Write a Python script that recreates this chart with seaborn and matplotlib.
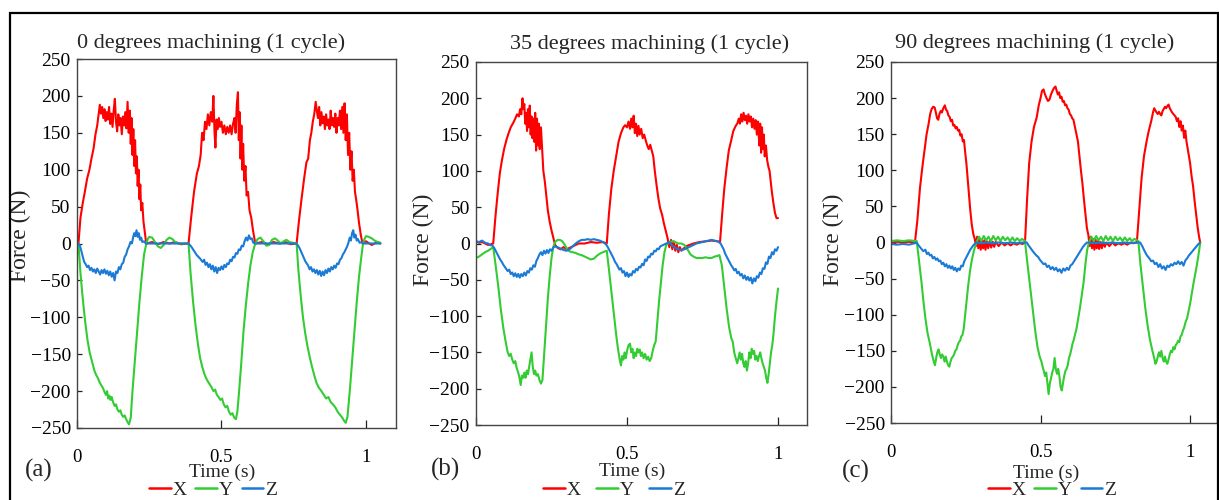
import matplotlib
matplotlib.use("Agg")
import matplotlib.pyplot as plt
from matplotlib.lines import Line2D
from matplotlib.patches import Rectangle
import pandas as pd
import seaborn as sns

# ---------------- data (time s, force N) ----------------
TITLES = ["0 degrees machining (1 cycle)", "35 degrees machining (1 cycle)", "90 degrees machining (1 cycle)"]
PANEL_TAGS = ["(a)", "(b)", "(c)"]
COMPONENTS = ["X", "Y", "Z"]
Y_TICKS = [-250, -200, -150, -100, -50, 0, 50, 100, 150, 200, 250]
X_TICKS = [0, 0.5, 1]
X_TICK_LABELS = ["0", "0.5", "1"]

A_X = [(0.005,0),(0.012,35),(0.020,55),(0.028,72),(0.035,88),(0.043,100),(0.050,115),(0.057,128),(0.064,148),(0.070,160),
       (0.075,175),(0.079,188),(0.083,176),(0.087,185),(0.091,170),(0.095,182),(0.099,166),(0.103,178),(0.107,168),(0.111,185),
       (0.115,162),(0.119,176),(0.123,158),(0.127,180),(0.131,196),(0.135,165),(0.139,152),(0.143,175),(0.147,160),(0.151,170),
       (0.155,148),(0.159,172),(0.163,160),(0.167,178),(0.171,156),(0.175,192),(0.179,150),(0.183,180),(0.186,135),(0.189,170),
       (0.192,120),(0.195,155),(0.198,105),(0.201,140),(0.204,95),(0.207,118),(0.210,78),(0.213,100),(0.216,60),(0.219,80),
       (0.222,45),(0.226,55),(0.230,30),(0.234,18),(0.238,5),(0.242,0),
       (0.26,2),(0.28,-1),(0.30,2),(0.32,0),(0.34,2),(0.36,-1),(0.386,0),
       (0.395,35),(0.405,70),(0.415,95),(0.422,105),(0.428,120),(0.433,150),(0.438,140),(0.443,165),(0.448,155),(0.453,175),
       (0.458,160),(0.463,178),(0.468,165),(0.472,200),(0.476,150),(0.479,130),(0.483,168),(0.487,155),(0.491,170),(0.495,158),
       (0.500,165),(0.505,150),(0.510,160),(0.515,148),(0.520,158),(0.525,150),(0.530,160),(0.535,148),(0.540,162),(0.545,170),
       (0.549,150),(0.553,188),(0.557,205),(0.560,140),(0.563,178),(0.566,115),(0.569,160),(0.572,100),(0.575,135),(0.579,85),
       (0.583,105),(0.587,65),(0.592,70),(0.597,45),(0.603,35),(0.609,18),(0.617,0),
       (0.64,2),(0.66,-1),(0.68,2),(0.70,0),(0.72,2),(0.74,-1),(0.76,0),
       (0.768,30),(0.777,60),(0.786,88),(0.794,110),(0.800,115),(0.806,140),(0.811,150),(0.816,165),(0.821,175),(0.826,192),
       (0.830,180),(0.834,170),(0.838,185),(0.842,160),(0.846,178),(0.850,163),(0.854,172),(0.858,155),(0.862,175),(0.866,160),
       (0.870,168),(0.874,155),(0.878,180),(0.882,160),(0.886,170),(0.890,158),(0.894,176),(0.898,150),(0.902,170),(0.906,160),
       (0.910,180),(0.914,155),(0.918,185),(0.922,150),(0.926,190),(0.930,140),(0.934,175),(0.938,120),(0.942,150),(0.946,100),
       (0.950,125),(0.954,85),(0.958,100),(0.962,70),(0.966,60),(0.971,45),(0.976,28),(0.982,12),(0.988,0),
       (1.00,3),(1.02,-2),(1.04,2),(1.05,0)]

A_Y = [(0.005,0),(0.012,-40),(0.020,-75),(0.028,-105),(0.036,-130),(0.044,-148),(0.052,-160),(0.060,-172),(0.066,-178),
       (0.072,-182),(0.078,-188),(0.084,-192),(0.090,-196),(0.096,-202),(0.100,-205),(0.104,-200),(0.108,-210),(0.112,-206),
       (0.116,-212),(0.120,-208),(0.125,-215),(0.130,-220),(0.135,-218),(0.140,-225),(0.145,-228),(0.150,-226),(0.155,-232),
       (0.160,-235),(0.165,-233),(0.170,-238),(0.175,-242),(0.180,-245),(0.186,-236),(0.192,-200),(0.200,-160),(0.208,-120),
       (0.216,-80),(0.224,-45),(0.232,-15),(0.240,0),(0.245,6),(0.25,9),(0.26,8),(0.27,2),(0.28,-4),(0.29,-6),(0.30,-2),
       (0.31,5),(0.32,8),(0.33,6),(0.34,2),(0.35,0),(0.386,0),
       (0.393,-40),(0.402,-80),(0.410,-110),(0.418,-135),(0.426,-155),(0.434,-168),(0.442,-178),(0.450,-185),(0.458,-190),
       (0.466,-195),(0.472,-200),(0.478,-198),(0.484,-205),(0.490,-208),(0.496,-212),(0.502,-210),(0.508,-218),(0.514,-222),
       (0.520,-220),(0.526,-228),(0.532,-232),(0.538,-230),(0.544,-236),(0.550,-238),(0.555,-228),(0.560,-205),(0.568,-165),
       (0.576,-120),(0.584,-85),(0.592,-55),(0.600,-30),(0.608,-12),(0.617,0),
       (0.625,6),(0.635,8),(0.645,3),(0.655,-3),(0.665,-2),(0.675,5),(0.685,7),(0.695,4),(0.705,0),(0.715,3),(0.725,5),
       (0.735,2),(0.76,0),
       (0.766,-35),(0.774,-70),(0.782,-100),(0.790,-122),(0.798,-140),(0.806,-155),(0.814,-168),(0.822,-180),(0.830,-190),
       (0.838,-196),(0.846,-200),(0.854,-205),(0.862,-210),(0.870,-208),(0.878,-215),(0.886,-218),(0.894,-222),(0.902,-228),
       (0.910,-232),(0.918,-236),(0.924,-240),(0.930,-243),(0.936,-235),(0.944,-200),(0.952,-160),(0.960,-120),(0.968,-80),
       (0.976,-45),(0.984,-18),(0.990,0),(0.995,6),(1.00,10),(1.01,9),(1.02,7),(1.03,4),(1.04,2),(1.05,1)]

A_Z = [(0.005,0),(0.010,-3),(0.015,-10),(0.020,-18),(0.025,-25),(0.030,-28),(0.035,-32),(0.040,-30),(0.045,-36),(0.050,-33),
       (0.055,-38),(0.060,-35),(0.065,-40),(0.070,-34),(0.075,-38),(0.080,-42),(0.085,-36),(0.090,-40),(0.095,-35),(0.100,-41),
       (0.105,-37),(0.110,-43),(0.115,-38),(0.120,-45),(0.125,-40),(0.130,-50),(0.135,-38),(0.140,-40),(0.145,-32),(0.150,-35),
       (0.155,-28),(0.160,-26),(0.165,-18),(0.170,-15),(0.175,-8),(0.180,-4),(0.185,2),(0.190,0),(0.194,8),(0.198,14),
       (0.202,10),(0.206,18),(0.210,9),(0.214,14),(0.218,5),(0.222,8),(0.226,2),(0.232,3),(0.238,0),(0.30,0),(0.386,0),
       (0.395,-4),(0.405,-10),(0.415,-16),(0.425,-20),(0.435,-25),(0.440,-22),(0.445,-29),(0.450,-26),(0.455,-32),(0.460,-28),
       (0.465,-35),(0.470,-30),(0.475,-38),(0.480,-32),(0.485,-40),(0.490,-33),(0.495,-36),(0.500,-31),(0.505,-35),(0.510,-29),
       (0.515,-32),(0.520,-27),(0.525,-28),(0.530,-22),(0.535,-24),(0.540,-18),(0.545,-19),(0.550,-13),(0.555,-14),(0.560,-8),
       (0.565,-9),(0.570,-3),(0.575,-4),(0.580,3),(0.585,8),(0.590,4),(0.595,11),(0.600,6),(0.605,7),(0.610,1),(0.617,0),
       (0.70,0),(0.760,0),
       (0.770,-6),(0.780,-15),(0.790,-24),(0.800,-30),(0.805,-35),(0.810,-32),(0.815,-38),(0.820,-35),(0.825,-40),(0.830,-36),
       (0.835,-42),(0.840,-37),(0.845,-44),(0.850,-38),(0.855,-43),(0.860,-36),(0.865,-40),(0.870,-34),(0.875,-38),(0.880,-32),
       (0.885,-35),(0.890,-30),(0.895,-33),(0.900,-27),(0.905,-28),(0.910,-22),(0.915,-20),(0.920,-15),(0.925,-12),(0.930,-8),
       (0.935,-4),(0.940,2),(0.944,8),(0.948,4),(0.952,14),(0.956,18),(0.960,8),(0.964,12),(0.968,4),(0.972,6),(0.978,1),
       (0.985,2),(0.990,0),(1.05,0)]

B_X = [(0.000,3),(0.010,1),(0.020,2),(0.030,0),(0.040,-2),(0.050,-1),(0.057,0),
       (0.065,40),(0.072,70),(0.079,97),(0.086,115),(0.093,130),(0.101,143),(0.108,152),(0.115,160),(0.123,166),(0.130,172),
       (0.136,178),(0.142,175),(0.146,185),(0.150,178),(0.154,200),(0.157,185),(0.160,192),(0.163,165),(0.166,180),(0.169,155),
       (0.172,185),(0.175,160),(0.178,190),(0.181,150),(0.184,175),(0.187,145),(0.190,172),(0.193,140),(0.196,180),(0.199,128),
       (0.202,172),(0.205,135),(0.208,165),(0.211,130),(0.215,160),(0.219,130),(0.223,100),(0.228,85),(0.233,65),(0.238,45),
       (0.244,30),(0.250,18),(0.256,8),(0.262,-2),(0.270,-6),(0.280,-8),(0.290,-5),(0.300,-8),(0.310,-6),(0.320,-4),(0.330,-2),
       (0.340,0),(0.360,0),(0.380,2),(0.400,1),(0.420,2),(0.433,0),
       (0.440,40),(0.448,75),(0.456,100),(0.464,120),(0.472,140),(0.480,152),(0.488,160),(0.494,163),(0.500,160),(0.505,168),
       (0.510,158),(0.514,172),(0.518,160),(0.522,176),(0.526,152),(0.530,165),(0.534,148),(0.538,162),(0.542,150),(0.547,158),
       (0.552,145),(0.557,150),(0.562,142),(0.567,135),(0.572,130),(0.577,136),(0.582,128),(0.587,120),(0.592,100),(0.598,80),
       (0.604,62),(0.610,48),(0.616,40),(0.622,28),(0.628,18),(0.634,8),(0.640,-5),(0.646,5),(0.650,-8),(0.655,3),(0.660,-10),
       (0.665,-2),(0.670,-12),(0.675,-5),(0.680,-10),(0.690,-6),(0.700,-3),(0.720,0),(0.740,2),(0.760,3),(0.780,4),(0.800,3),
       (0.808,2),
       (0.815,40),(0.822,75),(0.830,105),(0.837,128),(0.845,142),(0.852,155),(0.860,162),(0.866,166),(0.870,172),(0.874,165),
       (0.878,178),(0.882,168),(0.886,180),(0.890,170),(0.894,176),(0.898,165),(0.902,178),(0.906,168),(0.910,175),(0.914,160),
       (0.918,172),(0.922,158),(0.926,170),(0.930,150),(0.934,168),(0.938,135),(0.941,165),(0.944,125),(0.947,160),(0.950,130),
       (0.953,150),(0.956,120),(0.960,135),(0.964,115),(0.968,106),(0.972,100),(0.976,85),(0.980,70),(0.985,55),(0.990,42),
       (0.995,35),(1.000,35)]

B_Y = [(0.000,-20),(0.010,-18),(0.020,-15),(0.030,-12),(0.040,-10),(0.050,-7),(0.057,-5),
       (0.065,-30),(0.074,-60),(0.082,-90),(0.090,-115),(0.098,-135),(0.105,-150),(0.110,-155),(0.115,-152),(0.120,-160),
       (0.125,-165),(0.130,-162),(0.135,-172),(0.140,-178),(0.144,-185),(0.148,-195),(0.152,-182),(0.156,-185),(0.160,-178),
       (0.164,-185),(0.168,-175),(0.172,-180),(0.176,-170),(0.180,-160),(0.184,-150),(0.188,-170),(0.192,-180),(0.196,-175),
       (0.200,-182),(0.205,-180),(0.210,-188),(0.215,-193),(0.220,-188),(0.226,-150),(0.232,-110),(0.238,-75),(0.244,-45),
       (0.250,-20),(0.256,-5),(0.262,2),(0.270,5),(0.278,5),(0.286,3),(0.294,-2),(0.302,-8),(0.310,-11),(0.320,-12),
       (0.330,-13),(0.340,-15),(0.350,-16),(0.360,-18),(0.370,-20),(0.380,-22),(0.390,-21),(0.400,-17),(0.410,-14),
       (0.420,-12),(0.433,-10),
       (0.440,-35),(0.448,-65),(0.456,-95),(0.464,-125),(0.470,-145),(0.476,-160),(0.480,-168),(0.484,-155),(0.488,-160),
       (0.492,-150),(0.496,-158),(0.500,-148),(0.505,-140),(0.510,-138),(0.514,-150),(0.518,-145),(0.522,-158),(0.526,-150),
       (0.530,-155),(0.534,-145),(0.538,-150),(0.542,-146),(0.546,-155),(0.550,-150),(0.555,-158),(0.560,-152),(0.565,-160),
       (0.570,-156),(0.575,-162),(0.580,-158),(0.585,-148),(0.590,-140),(0.595,-135),(0.600,-110),(0.606,-80),(0.612,-55),
       (0.618,-30),(0.624,-12),(0.630,-2),(0.640,2),(0.650,3),(0.660,2),(0.670,0),(0.680,0),(0.690,-2),(0.700,-8),(0.710,-15),
       (0.720,-18),(0.730,-20),(0.740,-20),(0.750,-20),(0.760,-19),(0.770,-20),(0.780,-20),(0.790,-18),(0.800,-17),(0.806,-16),
       (0.814,-30),(0.822,-60),(0.830,-90),(0.838,-115),(0.845,-130),(0.850,-135),(0.855,-150),(0.860,-158),(0.865,-165),
       (0.869,-158),(0.873,-150),(0.877,-160),(0.881,-152),(0.885,-165),(0.889,-170),(0.893,-162),(0.897,-175),(0.901,-165),
       (0.905,-150),(0.909,-158),(0.913,-145),(0.917,-152),(0.921,-148),(0.925,-160),(0.929,-155),(0.933,-162),(0.937,-155),
       (0.941,-150),(0.945,-158),(0.949,-165),(0.953,-170),(0.957,-175),(0.961,-185),(0.965,-192),(0.969,-180),(0.973,-165),
       (0.977,-150),(0.981,-140),(0.985,-125),(0.990,-100),(0.995,-80),(1.000,-62)]

B_Z = [(0.000,3),(0.010,2),(0.020,4),(0.030,1),(0.040,0),(0.046,-2),(0.055,-3),(0.060,-6),(0.065,-10),(0.070,-14),(0.075,-18),
       (0.080,-22),(0.085,-25),(0.090,-29),(0.095,-32),(0.100,-35),(0.105,-38),(0.110,-36),(0.115,-42),(0.120,-40),(0.125,-45),
       (0.130,-41),(0.135,-46),(0.140,-42),(0.145,-47),(0.150,-42),(0.155,-45),(0.160,-40),(0.165,-44),(0.170,-38),(0.175,-40),
       (0.180,-34),(0.185,-36),(0.190,-30),(0.195,-32),(0.200,-24),(0.205,-20),(0.210,-15),(0.215,-12),(0.220,-16),(0.225,-10),
       (0.230,-14),(0.235,-9),(0.240,-13),(0.245,-8),(0.250,-10),(0.255,-6),(0.260,-4),(0.270,-5),(0.280,-7),(0.290,-9),
       (0.300,-10),(0.310,-8),(0.320,-4),(0.330,0),(0.340,3),(0.350,5),(0.360,5),(0.370,6),(0.380,5),(0.390,6),(0.400,5),
       (0.410,4),(0.420,2),(0.430,-1),(0.435,-4),(0.440,-8),(0.445,-12),(0.450,-16),(0.455,-20),(0.460,-25),(0.465,-28),
       (0.470,-32),(0.475,-36),(0.480,-34),(0.485,-40),(0.490,-38),(0.495,-45),(0.500,-40),(0.505,-46),(0.510,-42),(0.515,-44),
       (0.520,-38),(0.525,-40),(0.530,-35),(0.535,-37),(0.540,-32),(0.545,-33),(0.550,-28),(0.555,-30),(0.560,-22),(0.565,-24),
       (0.570,-18),(0.575,-19),(0.580,-14),(0.585,-15),(0.590,-10),(0.595,-11),(0.600,-7),(0.605,-8),(0.610,-4),(0.620,-2),
       (0.630,0),(0.640,2),(0.650,-3),(0.660,-6),(0.670,-8),(0.680,-9),(0.690,-8),(0.700,-6),(0.710,-4),(0.720,-2),(0.730,0),
       (0.740,1),(0.750,2),(0.760,3),(0.770,4),(0.780,5),(0.790,4),(0.800,3),(0.810,0),(0.815,-4),(0.820,-8),(0.825,-14),
       (0.830,-18),(0.835,-22),(0.840,-26),(0.845,-30),(0.850,-33),(0.855,-37),(0.860,-35),(0.865,-41),(0.870,-39),(0.875,-44),
       (0.880,-42),(0.885,-48),(0.890,-44),(0.895,-50),(0.900,-46),(0.905,-51),(0.910,-47),(0.915,-55),(0.920,-48),(0.925,-52),
       (0.930,-45),(0.935,-47),(0.940,-40),(0.945,-42),(0.950,-34),(0.955,-35),(0.960,-26),(0.965,-28),(0.970,-18),(0.975,-20),
       (0.980,-12),(0.985,-15),(0.990,-8),(0.995,-10),(1.000,-5)]

C_X = [(0.000,0),(0.020,1),(0.040,0),(0.060,1),(0.080,0),
       (0.088,30),(0.097,76),(0.105,105),(0.112,128),(0.119,150),(0.126,165),(0.131,178),(0.136,185),(0.141,188),(0.146,187),
       (0.150,180),(0.154,172),(0.158,170),(0.162,178),(0.166,182),(0.170,180),(0.175,186),(0.180,190),(0.184,184),(0.188,182),
       (0.192,176),(0.196,174),(0.200,168),(0.204,170),(0.208,162),(0.212,163),(0.216,158),(0.220,160),(0.224,155),(0.228,156),
       (0.232,148),(0.236,150),(0.240,140),(0.244,142),(0.248,125),(0.252,110),(0.256,90),(0.260,70),(0.265,45),(0.270,25),
       (0.275,12),(0.280,5),(0.284,-5),(0.288,8),(0.292,-8),(0.296,6),(0.300,-10),(0.304,4),(0.308,-8),(0.312,3),(0.316,-10),
       (0.320,2),(0.325,-8),(0.330,2),(0.335,-7),(0.340,1),(0.345,-6),(0.350,1),(0.360,-5),(0.370,0),(0.380,-4),(0.390,-1),
       (0.400,-4),(0.410,-1),(0.420,-3),(0.430,-1),(0.440,-2),(0.448,0),
       (0.455,60),(0.462,110),(0.470,140),(0.478,160),(0.487,173),(0.494,190),(0.500,200),(0.505,210),(0.510,212),(0.515,205),
       (0.520,200),(0.525,196),(0.530,198),(0.535,205),(0.540,210),(0.545,214),(0.550,216),(0.554,210),(0.558,205),(0.562,208),
       (0.566,200),(0.570,202),(0.574,195),(0.578,196),(0.582,190),(0.586,191),(0.590,186),(0.594,184),(0.598,178),(0.602,176),
       (0.606,172),(0.610,170),(0.615,160),(0.620,150),(0.625,140),(0.630,120),(0.635,100),(0.640,82),(0.645,60),(0.650,40),
       (0.655,20),(0.660,10),(0.664,-5),(0.668,8),(0.672,-8),(0.676,5),(0.680,-10),(0.684,4),(0.688,-8),(0.692,2),(0.696,-9),
       (0.700,1),(0.705,-8),(0.710,1),(0.715,-6),(0.720,0),(0.730,-5),(0.740,0),(0.750,-4),(0.760,-1),(0.770,-3),(0.780,-1),
       (0.790,-3),(0.800,0),(0.810,-1),(0.822,0),
       (0.830,45),(0.838,90),(0.846,120),(0.855,141),(0.862,155),(0.870,168),(0.876,180),(0.880,186),(0.884,183),(0.888,180),
       (0.892,178),(0.896,181),(0.900,178),(0.904,176),(0.908,182),(0.912,185),(0.916,188),(0.920,186),(0.924,189),(0.928,191),
       (0.932,186),(0.936,183),(0.940,180),(0.944,178),(0.948,176),(0.952,174),(0.956,168),(0.960,172),(0.964,160),(0.968,168),
       (0.972,155),(0.976,162),(0.980,145),(0.984,155),(0.988,140),(0.992,130),(0.996,120),(1.000,110),(1.005,92),(1.010,78),
       (1.015,58),(1.020,40),(1.025,22),(1.030,8),(1.034,0)]

C_Y = [(0.000,2),(0.020,3),(0.040,2),(0.060,3),(0.086,2),
       (0.095,-30),(0.102,-55),(0.108,-80),(0.115,-105),(0.122,-125),(0.130,-140),(0.137,-155),(0.143,-165),(0.147,-170),
       (0.151,-160),(0.155,-152),(0.159,-148),(0.163,-155),(0.167,-160),(0.171,-155),(0.175,-158),(0.179,-165),(0.183,-158),
       (0.187,-165),(0.191,-170),(0.195,-172),(0.199,-165),(0.203,-160),(0.207,-158),(0.211,-155),(0.215,-150),(0.219,-148),
       (0.223,-142),(0.227,-138),(0.231,-136),(0.235,-130),(0.239,-128),(0.243,-120),(0.248,-100),(0.253,-80),(0.258,-60),
       (0.264,-40),(0.270,-25),(0.278,-10),(0.286,0),
       (0.294,8),(0.302,2),(0.310,9),(0.318,3),(0.326,8),(0.334,2),(0.342,9),(0.350,3),(0.358,8),(0.366,2),(0.374,8),(0.382,3),
       (0.390,7),(0.398,2),(0.406,7),(0.414,2),(0.422,6),(0.430,2),(0.438,5),(0.448,2),
       (0.455,-25),(0.462,-50),(0.469,-75),(0.476,-100),(0.483,-125),(0.490,-145),(0.497,-158),(0.503,-165),(0.507,-172),
       (0.511,-178),(0.515,-185),(0.519,-180),(0.523,-195),(0.527,-210),(0.531,-195),(0.535,-188),(0.539,-180),(0.543,-175),
       (0.547,-160),(0.551,-175),(0.555,-182),(0.559,-175),(0.563,-185),(0.567,-200),(0.571,-205),(0.575,-195),(0.579,-185),
       (0.583,-178),(0.587,-175),(0.591,-170),(0.595,-160),(0.599,-155),(0.603,-148),(0.607,-140),(0.611,-135),(0.615,-128),
       (0.620,-120),(0.626,-105),(0.632,-90),(0.638,-72),(0.644,-55),(0.650,-30),(0.656,-10),(0.662,0),
       (0.670,8),(0.678,2),(0.686,9),(0.694,3),(0.702,8),(0.710,2),(0.718,9),(0.726,3),(0.734,8),(0.742,2),(0.750,8),(0.758,3),
       (0.766,7),(0.774,2),(0.782,7),(0.790,2),(0.798,6),(0.806,2),(0.814,5),(0.827,2),
       (0.834,-30),(0.842,-60),(0.850,-90),(0.858,-115),(0.866,-135),(0.874,-150),(0.880,-160),(0.884,-168),(0.888,-165),
       (0.892,-158),(0.896,-152),(0.900,-158),(0.904,-150),(0.908,-160),(0.912,-165),(0.916,-158),(0.920,-165),(0.924,-168),
       (0.928,-162),(0.932,-155),(0.936,-150),(0.940,-152),(0.944,-145),(0.948,-148),(0.952,-142),(0.956,-140),(0.960,-136),
       (0.964,-138),(0.968,-130),(0.972,-128),(0.976,-122),(0.980,-118),(0.985,-110),(0.990,-105),(0.995,-95),(1.000,-85),
       (1.006,-70),(1.012,-55),(1.018,-42),(1.024,-28),(1.030,-12),(1.034,0)]

C_Z = [(0.000,-2),(0.020,-3),(0.040,-2),(0.060,-3),(0.080,-1),(0.086,0),(0.092,-4),(0.100,-8),(0.108,-12),(0.115,-10),
       (0.120,-16),(0.125,-14),(0.130,-18),(0.135,-17),(0.140,-22),(0.145,-20),(0.150,-24),(0.155,-22),(0.160,-26),(0.165,-25),
       (0.170,-30),(0.175,-28),(0.180,-33),(0.185,-30),(0.190,-35),(0.195,-32),(0.200,-36),(0.205,-33),(0.210,-38),(0.215,-35),
       (0.220,-40),(0.225,-36),(0.230,-38),(0.235,-32),(0.240,-33),(0.245,-26),(0.250,-22),(0.255,-18),(0.260,-14),(0.265,-10),
       (0.270,-7),(0.275,-4),(0.280,-2),(0.286,0),(0.300,-1),(0.320,0),(0.340,-1),(0.360,0),(0.380,-1),(0.400,0),(0.420,-1),
       (0.440,0),(0.454,0),
       (0.460,-4),(0.467,-8),(0.474,-12),(0.480,-15),(0.486,-18),(0.492,-20),(0.498,-24),(0.504,-27),(0.510,-30),(0.516,-29),
       (0.522,-34),(0.528,-32),(0.534,-37),(0.540,-34),(0.546,-38),(0.552,-35),(0.558,-40),(0.564,-37),(0.570,-42),(0.576,-36),
       (0.582,-39),(0.588,-35),(0.594,-38),(0.600,-32),(0.606,-30),(0.612,-26),(0.618,-22),(0.624,-18),(0.630,-14),(0.636,-10),
       (0.642,-6),(0.648,-3),(0.655,0),(0.680,-1),(0.700,0),(0.720,-1),(0.740,0),(0.760,-1),(0.780,0),(0.800,-1),(0.820,0),
       (0.833,0),
       (0.840,-5),(0.848,-12),(0.856,-18),(0.864,-22),(0.870,-26),(0.876,-25),(0.882,-30),(0.888,-28),(0.894,-34),(0.900,-30),
       (0.906,-36),(0.912,-33),(0.918,-38),(0.924,-32),(0.930,-34),(0.936,-30),(0.942,-32),(0.948,-28),(0.954,-30),(0.960,-26),
       (0.966,-30),(0.972,-27),(0.978,-32),(0.984,-25),(0.990,-22),(0.996,-18),(1.002,-15),(1.008,-12),(1.014,-9),(1.020,-6),
       (1.026,-3),(1.033,0)]

PANEL_SERIES = [(A_X, A_Y, A_Z), (B_X, B_Y, B_Z), (C_X, C_Y, C_Z)]

# ---------------- style / layout ----------------
W, H = 1219, 500
COLORS = {"X": "#FF0000", "Y": "#33CC33", "Z": "#1A7AD6"}

sns.set_style("ticks")
plt.rcParams["font.family"] = ["Liberation Serif", "DejaVu Serif"]
plt.rcParams["axes.unicode_minus"] = True

def fx(px):
    return px / W

def fy(py):
    return 1 - py / H

# axes boxes in pixels: left, right, top, bottom ; x-limit max
AX_BOX = [(77, 396, 59, 428, 1.104), (476, 807, 62, 425, 1.096), (891, 1217, 62, 423, 1.09)]
TITLE_POS = [(211, 43), (650, 44), (1035, 43)]
YLABEL_POS = [(20, 236), (423, 240), (833, 240)]
XLABEL_POS = [(222, 472), (632, 471), (1046, 473)]
TAG_POS = [(39, 470), (445, 469), (856, 471)]
LEGEND_POS = [(213, 490), (614, 490), (1052, 490)]
LEGEND_COLSP = [0.45, 0.8, 0.45]

fig = plt.figure(figsize=(W / 100, H / 100), dpi=100)

for i in range(3):
    l, r, t, b, xmax = AX_BOX[i]
    ax = fig.add_axes([fx(l), fy(b), (r - l) / W, (b - t) / H])
    frames = []
    for comp, pts in zip(COMPONENTS, PANEL_SERIES[i]):
        tt, ff = zip(*pts)
        frames.append(pd.DataFrame({"Time": tt, "Force": ff, "Axis": comp}))
    df = pd.concat(frames, ignore_index=True)
    sns.lineplot(data=df, x="Time", y="Force", hue="Axis", hue_order=COMPONENTS,
                 palette=COLORS, estimator=None, sort=False,
                 linewidth=1.5, legend=False, ax=ax)
    ax.set_xlim(0, xmax)
    ax.set_ylim(-250, 250)
    ax.set_yticks(Y_TICKS)
    ax.set_xticks(X_TICKS)
    ax.set_xticklabels(X_TICK_LABELS)
    ax.set_xlabel("")
    ax.set_ylabel("")
    ax.tick_params(axis="y", direction="in", length=3.5, width=0.9, pad=4.5, labelsize=14, colors="#222222",
                   labelcolor="black")
    ax.tick_params(axis="x", direction="in", length=6, width=0.9, pad=15, labelsize=13.5, colors="#222222",
                   labelcolor="black")
    for s in ax.spines.values():
        s.set_color("#444444")
        s.set_linewidth(1.0)
        s.set_visible(True)

    fig.text(fx(TITLE_POS[i][0]), fy(TITLE_POS[i][1]), TITLES[i], ha="center", va="center", fontsize=16)
    fig.text(fx(YLABEL_POS[i][0]), fy(YLABEL_POS[i][1]), "Force (N)", ha="center", va="center",
             rotation=90, fontsize=17)
    fig.text(fx(XLABEL_POS[i][0]), fy(XLABEL_POS[i][1]), "Time (s)", ha="center", va="center", fontsize=14)
    fig.text(fx(TAG_POS[i][0]), fy(TAG_POS[i][1]), PANEL_TAGS[i], ha="center", va="center", fontsize=18)

    handles = [Line2D([], [], color=COLORS[c], lw=1.8) for c in COMPONENTS]
    ax.legend(handles, COMPONENTS, loc="center", bbox_to_anchor=(fx(LEGEND_POS[i][0]), fy(LEGEND_POS[i][1])),
              bbox_transform=fig.transFigure, ncol=3, frameon=False, fontsize=14, handlelength=1.1,
              handletextpad=0.1, columnspacing=LEGEND_COLSP[i], borderpad=0, borderaxespad=0)

# outer frame of the figure
fig.patches.append(Rectangle((fx(10), -0.02), fx(1218) - fx(10), fy(13) + 0.02, transform=fig.transFigure,
                             fill=False, edgecolor="black", linewidth=1.6, zorder=10))

fig.savefig("out.png", dpi=100)
